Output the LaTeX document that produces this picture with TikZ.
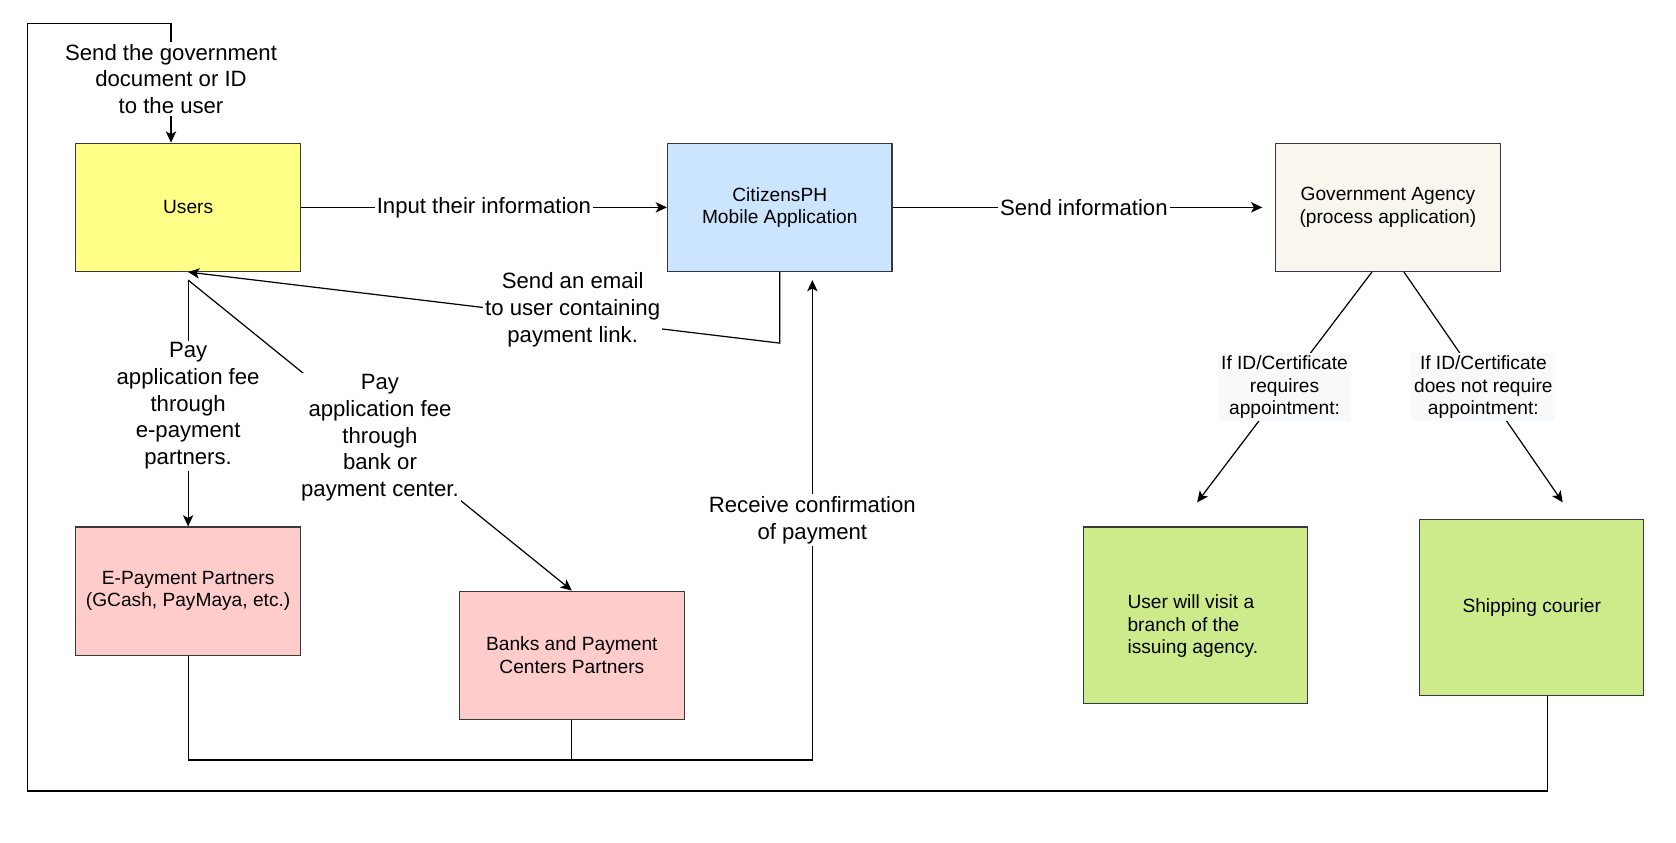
\documentclass[tikz,border=0pt]{standalone}
\usepackage{fontspec}
\setmainfont{Liberation Sans}
\usepackage{tikz}
\usetikzlibrary{positioning,arrows.meta}

\definecolor{boxline}{HTML}{36393D}
\definecolor{userfill}{HTML}{FFFF88}
\definecolor{appfill}{HTML}{CCE5FF}
\definecolor{agencyfill}{HTML}{F9F7ED}
\definecolor{payfill}{HTML}{FFCCCC}
\definecolor{deliverfill}{HTML}{CDEB8B}
\definecolor{condfill}{HTML}{F8F9FA}

\newcommand{\boxfont}{\fontsize{10.2}{12}\selectfont}
\newcommand{\lblfont}{\fontsize{11.8}{14.2}\selectfont}

\begin{document}
\begin{tikzpicture}[
  x=0.02cm, y=-0.02cm,
  >={Stealth[length=6pt,width=5.5pt,inset=1.5pt]},
  stepbox/.style={rectangle, draw=boxline, line width=0.6pt, minimum width=4.2cm, minimum height=2.4cm, inner sep=2pt, font=\boxfont, align=center},
  endbox/.style={stepbox, fill=deliverfill, minimum height=3.3cm},
  flow/.style={->, draw=black, line width=0.65pt},
  plain/.style={draw=black, line width=0.65pt},
  lbl/.style={fill=white, inner sep=1pt, font=\lblfont, align=center},
  cond/.style={fill=condfill, inner sep=1.5pt, font=\boxfont, align=center}
]
  \useasboundingbox (0,0) rectangle (1568,788);

  % boxes
  \node[stepbox, fill=userfill] (users) at (176,194) {Users};
  \node[stepbox, fill=appfill] (app) at (729.5,194) {CitizensPH\\Mobile Application};
  \node[stepbox, fill=agencyfill] (agency) at (1298.5,194) {Government Agency\\(process application)};
  \node[stepbox, fill=payfill] (epay) at (176,553) {E-Payment Partners\\(GCash, PayMaya, etc.)};
  \node[stepbox, fill=payfill] (banks) at (535,613) {Banks and Payment\\Centers Partners};
  \node[endbox] (visit) at (1118.5,575.5) {};
  \node[font=\boxfont, align=left] (visittext) at (1116,586) {User will visit a\\branch of the\\issuing agency.};
  \node[endbox] (ship) at (1433,568.5) {Shipping courier};

  % free ends and bends
  \coordinate (paystart) at (176,262);
  \coordinate (mailbend) at (729.5,321);
  \coordinate (confirm) at (760,711);
  \coordinate (confirmtip) at (760,262);
  \coordinate (reqtip) at (1120,470);
  \coordinate (noreqtip) at (1462,470);
  \coordinate (retbottom) at (26,740);
  \coordinate (rettop) at (26,22);

  % connectors
  \draw[flow] (users) -- node[lbl] {Input their information} (app);
  \draw[flow, shorten >=0.24cm] (app) -- node[lbl] {Send information} (agency);
  \draw[flow] (app.south) -- (mailbend) -- node[lbl, pos=0.35, yshift=0.16cm] {Send an email\\to user containing\\payment link.} (users.south);
  \draw[flow] (paystart) -- node[lbl, yshift=-0.05cm] {Pay\\application fee\\through\\e-payment\\partners.} (epay.north);
  \draw[flow] (paystart) -- node[lbl, yshift=-0.05cm] {Pay\\application fee\\through\\bank or\\payment center.} (banks.north);
  \draw[flow] (epay.south) |- (confirm) -- node[lbl] {Receive confirmation\\of payment} (confirmtip);
  \draw[plain] (banks.south) -- (banks.south |- confirm);
  \draw[flow] ([xshift=-0.3cm]agency.south) -- node[cond] {If ID/Certificate\\requires\\appointment:} (reqtip);
  \draw[flow] ([xshift=0.3cm]agency.south) -- node[cond] {If ID/Certificate\\does not require\\appointment:} (noreqtip);
  \draw[flow] ([xshift=0.3cm]ship.south) |- (retbottom) -- (rettop) -| node[lbl, pos=0.75, yshift=0.08cm] {Send the government\\document or ID\\to the user} ([xshift=-0.32cm]users.north);
\end{tikzpicture}
\end{document}
